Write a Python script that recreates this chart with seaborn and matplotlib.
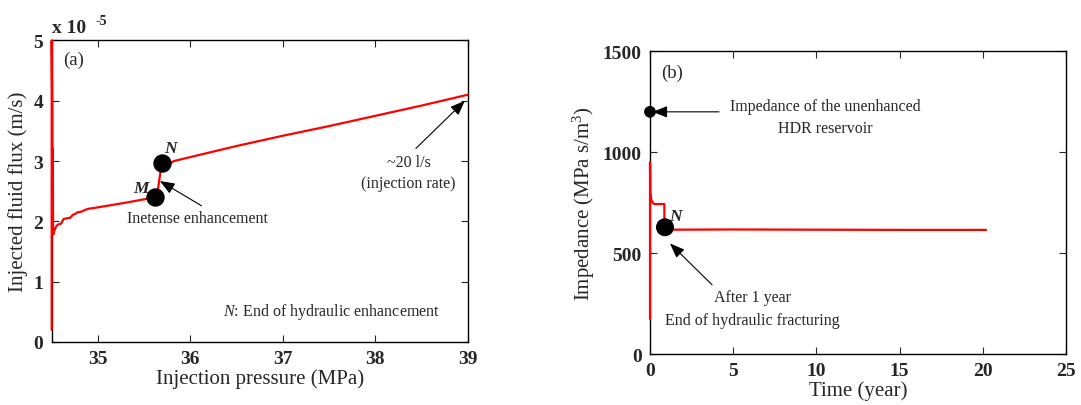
import matplotlib
matplotlib.use("Agg")
import matplotlib.pyplot as plt
import seaborn as sns
import pandas as pd

# panel (a): injected fluid flux (x 1e-5 m/s) vs injection pressure (MPa)
pressure = [34.5, 34.5, 34.506, 34.508, 34.512, 34.516, 34.53, 34.55, 34.57, 34.6,
            34.63, 34.66, 34.7, 34.73, 34.75, 34.78, 34.82, 34.86, 34.9, 34.95,
            35.3, 35.62, 35.64, 35.69, 35.74, 35.78, 35.82, 36.5, 37.0, 37.5,
            38.0, 38.5, 39.0]
flux = [0.2, 5.0, 3.95, 2.6, 3.2, 1.78, 1.85, 1.92, 1.95, 1.96,
        2.04, 2.05, 2.06, 2.11, 2.12, 2.15, 2.16, 2.19, 2.21, 2.22,
        2.31, 2.40, 2.42, 2.97, 2.95, 2.96, 3.0, 3.25, 3.42, 3.58,
        3.75, 3.92, 4.1]
pt_a_x = [35.62, 35.69]
pt_a_y = [2.40, 2.97]

# panel (b): impedance (MPa s/m3) vs time (year)
time_yr = [0.0, 0.0, 0.02, 0.05, 0.1, 0.18, 0.26, 0.5, 0.86, 0.87, 0.95, 1.26,
           5.0, 10.0, 15.0, 20.2]
impedance = [173, 950, 800, 778, 760, 748, 743, 743, 743, 625, 616, 616,
             617, 616, 615, 615]
pt_b_x = [0.0, 0.9]
pt_b_y = [1200, 628]

sns.set_style("ticks")
plt.rcParams["font.family"] = ["Liberation Serif", "DejaVu Serif"]
plt.rcParams["mathtext.fontset"] = "custom"
plt.rcParams["mathtext.rm"] = "Liberation Serif"
plt.rcParams["mathtext.it"] = "Liberation Serif:italic"
plt.rcParams["mathtext.bf"] = "Liberation Serif:bold"

fig = plt.figure(figsize=(10.81, 4.06), dpi=100)
ax1 = fig.add_axes([0.0478, 0.1552, 0.3848, 0.7426])
ax2 = fig.add_axes([0.6013, 0.1256, 0.3848, 0.7456])

df_a = pd.DataFrame({"p": pressure, "q": flux})
df_b = pd.DataFrame({"t": time_yr, "z": impedance})

sns.lineplot(data=df_a, x="p", y="q", sort=False, estimator=None,
             color="red", lw=1.6, ax=ax1, zorder=3, clip_on=False)
sns.scatterplot(x=pt_a_x, y=pt_a_y, color="black", s=150, edgecolor="black",
                zorder=5, ax=ax1)
sns.lineplot(data=df_b, x="t", y="z", sort=False, estimator=None,
             color="red", lw=1.6, ax=ax2, zorder=3, clip_on=False)
sns.scatterplot(x=pt_b_x, y=pt_b_y, color="black", s=[60, 150], edgecolor="black",
                zorder=5, ax=ax2, legend=False, clip_on=False)

for ax in (ax1, ax2):
    ax.tick_params(direction="in", top=True, right=True, length=5, width=0.8,
                   labelsize=14, pad=6)
    for sp in ax.spines.values():
        sp.set_linewidth(1.0)
        sp.set_color("black")

ax1.set_xlim(34.5, 39)
ax1.set_ylim(0, 5)
ax1.set_xticks([35, 36, 37, 38, 39])
ax1.set_yticks([0, 1, 2, 3, 4, 5])
ax1.set_xticklabels(["35", "36", "37", "38", "39"], fontweight="bold")
ax1.set_yticklabels(["0", "1", "2", "3", "4", "5"], fontweight="bold")
ax1.set_xlabel("Injection pressure (MPa)", fontsize=15, labelpad=1)
ax1.set_ylabel("Injected fluid flux (m/s)", fontsize=15, labelpad=4)
ax1.text(0.0, 1.015, "x 10", transform=ax1.transAxes, fontsize=14,
         fontweight="bold", ha="left", va="bottom")
ax1.text(0.105, 1.045, "-5", transform=ax1.transAxes, fontsize=10,
         fontweight="bold", ha="left", va="bottom")

ax1.text(34.62, 4.69, "(a)", fontsize=13.5, va="center")
ax1.text(35.78, 3.22, "N", fontsize=12.5, style="italic", fontweight="bold",
         ha="center", va="center")
ax1.text(35.47, 2.55, "M", fontsize=12.5, style="italic", fontweight="bold",
         ha="center", va="center")
arrow = dict(arrowstyle="-|>,head_length=0.9,head_width=0.35", color="black",
             lw=0.8, shrinkA=0, shrinkB=0)
ax1.annotate("", xy=(35.67, 2.67), xytext=(36.12, 2.26), arrowprops=arrow)
ax1.text(36.08, 2.05, "Inetense enhancement", fontsize=11.5, ha="center",
         va="center")
ax1.annotate("", xy=(38.97, 4.0), xytext=(38.44, 3.21), arrowprops=arrow)
ax1.text(38.36, 2.98, "~20 l/s", fontsize=11.5, ha="center", va="center")
ax1.text(38.36, 2.63, "(injection rate)", fontsize=11.5, ha="center", va="center")
ax1.text(37.53, 0.51, "$\\it{N}$: End of hydraulic enhancement", fontsize=11.5,
         ha="center", va="center")

ax2.set_xlim(0, 25)
ax2.set_ylim(0, 1500)
ax2.set_xticks([0, 5, 10, 15, 20, 25])
ax2.set_yticks([0, 500, 1000, 1500])
ax2.set_xticklabels(["0", "5", "10", "15", "20", "25"], fontweight="bold")
ax2.set_yticklabels(["0", "500", "1000", "1500"], fontweight="bold")
ax2.set_xlabel("Time (year)", fontsize=15, labelpad=1)
ax2.set_ylabel("Impedance (MPa s/m$^3$)", fontsize=15, labelpad=4)

ax2.text(1.31, 1396, "(b)", fontsize=13.5, va="center", ha="center")
ax2.text(1.5, 685, "N", fontsize=12.5, style="italic", fontweight="bold",
         ha="center", va="center")
ax2.annotate("", xy=(0.15, 1200), xytext=(4.15, 1200), arrowprops=arrow)
ax2.text(10.56, 1227, "Impedance of the unenhanced", fontsize=11.5,
         ha="center", va="center")
ax2.text(10.56, 1119, "HDR reservoir", fontsize=11.5, ha="center", va="center")
ax2.annotate("", xy=(1.2, 548), xytext=(3.73, 343), arrowprops=arrow)
ax2.text(6.15, 280, "After 1 year", fontsize=11.5, ha="center", va="center")
ax2.text(6.15, 168, "End of hydraulic fracturing", fontsize=11.5,
         ha="center", va="center")

fig.savefig("out.png", dpi=100)
